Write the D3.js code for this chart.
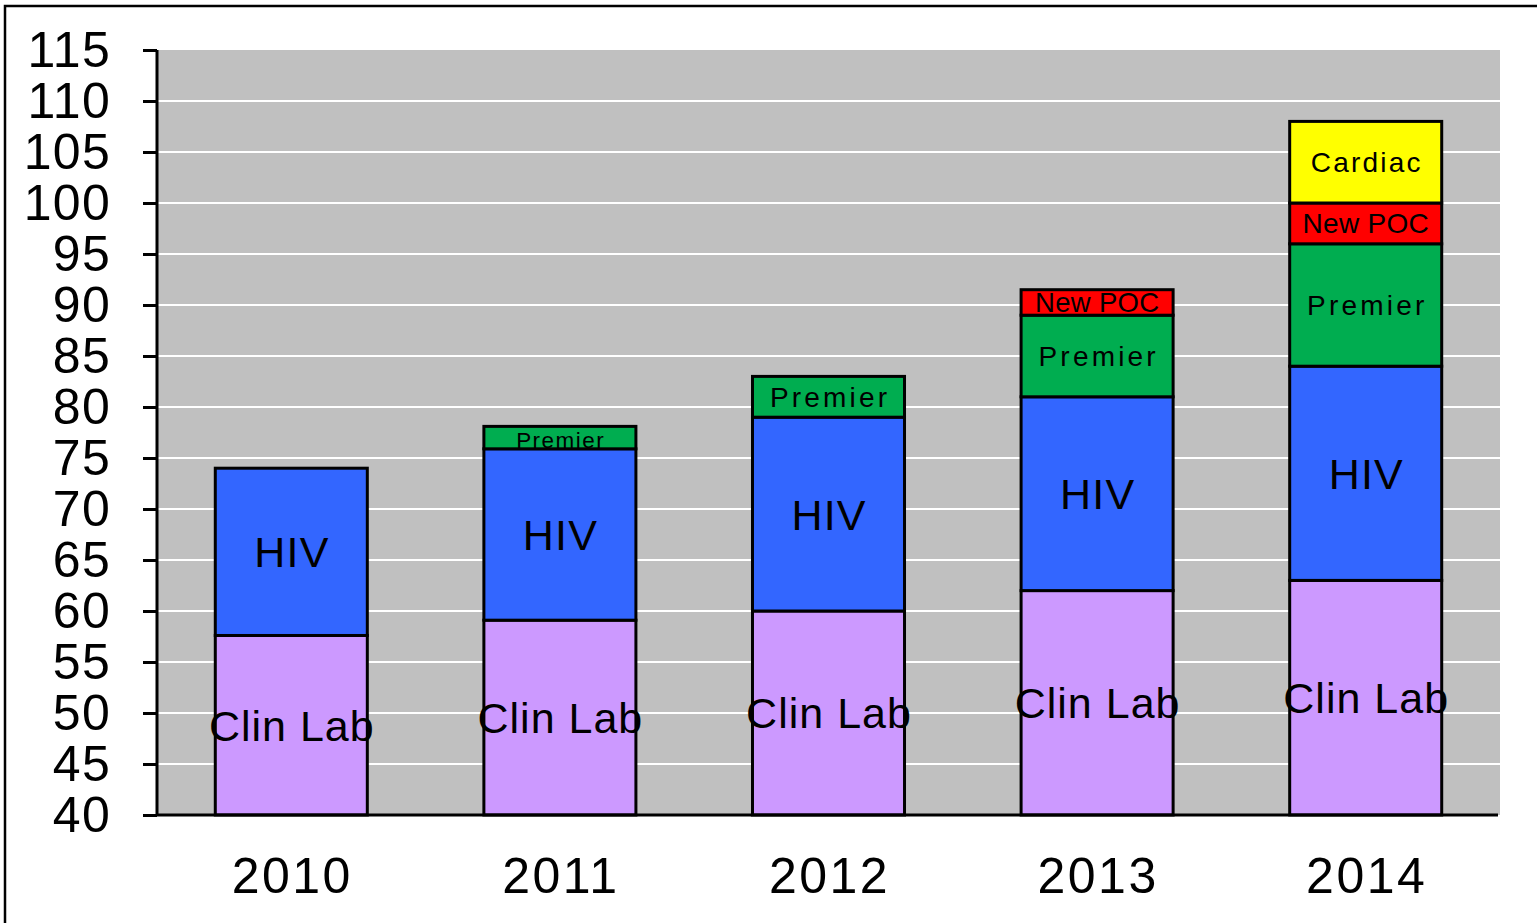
<!DOCTYPE html>
<meta charset="utf-8">
<style>
body { margin: 0; background: #fff; }
text { font-family: "Liberation Sans", Arial, sans-serif; fill: #000; }
</style>
<body>
<div id="chart"></div>
<script src="https://cdn.jsdelivr.net/npm/d3@7"></script>
<script>
// data
var years = ["2010", "2011", "2012", "2013", "2014"];
var clinLab = [57.6, 59.1, 60, 62, 63];
var hiv = [16.4, 16.8, 19, 19, 21];
var premier = [0, 2.2, 4, 8, 12];
var newPoc = [0, 0, 0, 2.5, 4];
var cardiac = [0, 0, 0, 0, 8];
var yTicks = [40, 45, 50, 55, 60, 65, 70, 75, 80, 85, 90, 95, 100, 105, 110, 115];

var seriesNames = ["Clin Lab", "HIV", "Premier", "New POC", "Cardiac"];
var seriesColors = ["#CC99FF", "#3366FF", "#00AD50", "#FF0000", "#FFFF00"];
var seriesFont = [43, 43, 28, 28, 28];
var seriesSpacing = [1, 1.2, 3.2, 0.3, 2.2];

var width = 1537, height = 923;
var margin = {top: 50, right: 37, bottom: 108, left: 157};
var w = width - margin.left - margin.right,
    h = height - margin.top - margin.bottom;

var svg = d3.select("#chart").append("svg")
    .attr("width", width)
    .attr("height", height);

// outer frame
svg.append("rect")
    .attr("x", 5).attr("y", 6)
    .attr("width", width).attr("height", height)
    .attr("fill", "none")
    .attr("stroke", "#000")
    .attr("stroke-width", 2.5);

var g = svg.append("g").attr("transform", "translate(" + margin.left + "," + margin.top + ")");

var x = d3.scaleBand().domain(years).range([0, w]).paddingInner(0.434).paddingOuter(0.217);
var y = d3.scaleLinear().domain([40, 115]).range([h, 0]);

g.append("rect")
    .attr("width", w).attr("height", h)
    .attr("fill", "#C0C0C0");

// grid lines
g.selectAll(".grid").data(yTicks.slice(1, -1)).enter().append("line")
    .attr("x1", 0).attr("x2", w)
    .attr("y1", function(d) { return y(d); })
    .attr("y2", function(d) { return y(d); })
    .attr("stroke", "#fff")
    .attr("stroke-width", 2);

var table = years.map(function(yr, i) {
    return {year: yr, "Clin Lab": clinLab[i], "HIV": hiv[i], "Premier": premier[i], "New POC": newPoc[i], "Cardiac": cardiac[i]};
});
var stacked = d3.stack().keys(seriesNames)(table);

// stack starts at 0, the axis at 40
function yv(v) { return y(Math.max(v, 40)); }

var layers = g.selectAll(".layer").data(stacked).enter().append("g");

layers.selectAll("rect").data(function(d) { return d.filter(function(s) { return s[1] - s[0] > 0; }); })
    .enter().append("rect")
    .attr("x", function(d) { return x(d.data.year); })
    .attr("width", x.bandwidth())
    .attr("y", function(d) { return yv(d[1]); })
    .attr("height", function(d) { return yv(d[0]) - yv(d[1]); })
    .attr("fill", function(d) { return seriesColors[seriesNames.indexOf(this.parentNode.__data__.key)]; })
    .attr("stroke", "#000")
    .attr("stroke-width", 3);

// labels on top of all bars
stacked.forEach(function(layer, k) {
    layer.forEach(function(s) {
        if (s[1] - s[0] <= 0) return;
        var top = yv(s[1]), bot = yv(s[0]);
        var small = (bot - top) < seriesFont[k] - 4;
        var fs = small ? bot - top : Math.min(seriesFont[k], bot - top + 2);
        var sp = small ? 1.5 : seriesSpacing[k];
        var dy = small ? fs * 0.45 : fs * 0.36;
        g.append("text")
            .attr("x", x(s.data.year) + x.bandwidth() / 2 + sp / 2)
            .attr("y", (top + bot) / 2 + dy)
            .attr("text-anchor", "middle")
            .style("font-size", fs + "px")
            .style("letter-spacing", sp + "px")
            .text(seriesNames[k]);
    });
});

// axes
var yAxis = g.append("g")
    .call(d3.axisLeft(y).tickValues(yTicks).tickSize(14).tickPadding(32).tickFormat(d3.format("d")));
yAxis.select(".domain").attr("stroke-width", 3).attr("d", "M0," + h + "V0");
yAxis.selectAll(".tick line").attr("stroke-width", 3);
yAxis.selectAll("text").style("font-size", "50px").style("letter-spacing", "1.3px");

var xAxis = g.append("g")
    .attr("transform", "translate(0," + h + ")")
    .call(d3.axisBottom(x).tickSize(0).tickPadding(42));
xAxis.select(".domain").attr("stroke-width", 3).attr("d", "M0,0H" + (w - 2));
xAxis.selectAll("text").style("font-size", "50px").style("letter-spacing", "2.5px")
    .attr("dx", "1px");
</script>
</body>
